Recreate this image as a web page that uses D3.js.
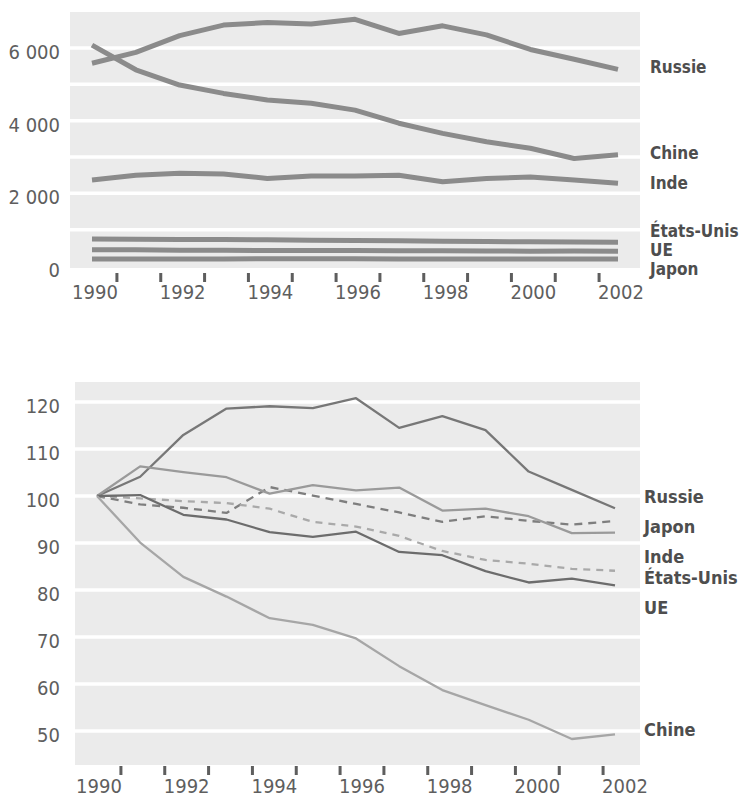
<!DOCTYPE html>
<html>
<head>
<meta charset="utf-8">
<script src="https://cdn.jsdelivr.net/npm/d3@7"></script>
<style>
  html, body { margin: 0; padding: 0; background: #ffffff; }
  svg { display: block; }
  text { font-family: "DejaVu Sans Condensed", "Liberation Sans Narrow", "Arial Narrow", sans-serif; }
</style>
</head>
<body>
<svg id="chart" width="746" height="798"></svg>
<script>
// ---------- DATA ----------
const years = [1990, 1991, 1992, 1993, 1994, 1995, 1996, 1997, 1998, 1999, 2000, 2001, 2002];
const yearTickLabels = [1990, 1992, 1994, 1996, 1998, 2000, 2002];
const yearTickMarks = [1990.5, 1991.5, 1992.5, 1993.5, 1994.5, 1995.5, 1996.5, 1997.5, 1998.5, 1999.5, 2000.5, 2001.5];

// Top panel (absolute values)
const topTicks = [0, 2000, 4000, 6000];
const topGrid = [1000, 2000, 3000, 4000, 5000, 6000];
const russieTop = [5580, 5880, 6340, 6630, 6700, 6660, 6790, 6400, 6610, 6360, 5960, 5690, 5410];
const chineTop  = [6080, 5400, 4980, 4750, 4570, 4480, 4290, 3930, 3650, 3420, 3240, 2960, 3060];
const indeTop   = [2370, 2500, 2550, 2530, 2410, 2480, 2480, 2500, 2320, 2410, 2450, 2370, 2280];
const usaTop    = [740, 735, 730, 728, 722, 712, 705, 695, 680, 672, 668, 660, 655];
const ueTop     = [445, 445, 435, 432, 428, 425, 428, 420, 418, 412, 408, 410, 405];
const japonTop  = [190, 190, 192, 194, 200, 200, 198, 196, 195, 196, 195, 196, 195];

// Bottom panel (index 1990 = 100)
const bottomTicks = [50, 60, 70, 80, 90, 100, 110, 120];
const russieIdx = [100, 104.1, 113, 118.6, 119.1, 118.7, 120.8, 114.5, 117, 114, 105.2, 101.3, 97.4];
const indeIdx   = [100, 106.3, 105.1, 104, 100.5, 102.3, 101.2, 101.8, 96.9, 97.3, 95.7, 92.1, 92.2];
const japonIdx  = [100, 98.2, 97.5, 96.4, 101.9, 100.1, 98.3, 96.5, 94.5, 95.7, 94.7, 93.9, 94.7];
const usaIdx    = [100, 99.5, 98.9, 98.5, 97.3, 94.5, 93.5, 91.5, 88.3, 86.4, 85.6, 84.5, 84.1];
const ueIdx     = [100, 100.2, 96, 95, 92.3, 91.3, 92.4, 88.1, 87.4, 84, 81.6, 82.4, 81];
const chineIdx  = [100, 90.1, 82.8, 78.6, 74, 72.6, 69.7, 63.8, 58.7, 55.5, 52.4, 48.3, 49.3];

// ---------- SERIES / STYLES ----------
const topSeries = [
  { name: "Russie",     values: russieTop, labelAt: 5477 },
  { name: "Chine",      values: chineTop,  labelAt: 3110 },
  { name: "Inde",       values: indeTop,   labelAt: 2285 },
  { name: "États-Unis", values: usaTop,    labelAt: 960 },
  { name: "UE",         values: ueTop,     labelAt: 440 },
  { name: "Japon",      values: japonTop,  labelAt: -85 }
];
const bottomSeries = [
  { name: "Russie",     values: russieIdx, labelAt: 99.8, color: "#777777", dash: null },
  { name: "Japon",      values: japonIdx,  labelAt: 93.4, color: "#7e7e7e", dash: "8,6" },
  { name: "Inde",       values: indeIdx,   labelAt: 87.0, color: "#9a9a9a", dash: null },
  { name: "États-Unis", values: usaIdx,    labelAt: 82.6, color: "#a9a9a9", dash: "7,6" },
  { name: "UE",         values: ueIdx,     labelAt: 76.2, color: "#6c6c6c", dash: null },
  { name: "Chine",      values: chineIdx,  labelAt: 50.2, color: "#a6a6a6", dash: null }
];

const svg = d3.select("#chart");
const plotBg = "#ebebeb";
const tickColor = "#5e5e5e";
const labelColor = "#4e4e4e";

function drawPanel(cfg) {
  const g = svg.append("g");
  g.append("rect")
    .attr("x", cfg.box[0]).attr("y", cfg.box[1])
    .attr("width", cfg.box[2] - cfg.box[0]).attr("height", cfg.box[3] - cfg.box[1])
    .attr("fill", plotBg);
  g.selectAll("line.grid").data(cfg.grid).join("line")
    .attr("class", "grid")
    .attr("x1", cfg.box[0]).attr("x2", cfg.box[2])
    .attr("y1", d => cfg.y(d)).attr("y2", d => cfg.y(d))
    .attr("stroke", "#ffffff").attr("stroke-width", 3.5);
  g.selectAll("text.ytick").data(cfg.yticks).join("text")
    .attr("class", "ytick")
    .attr("x", cfg.yLabelX).attr("y", d => cfg.y(d) + 4)
    .attr("dy", "0.35em")
    .attr("text-anchor", "end")
    .attr("font-size", 20)
    .attr("fill", tickColor)
    .text(d => cfg.yFormat(d));
  g.selectAll("rect.xtick").data(yearTickMarks).join("rect")
    .attr("class", "xtick")
    .attr("x", d => cfg.xAxis(d) - 1.5).attr("y", cfg.tickY)
    .attr("width", 3).attr("height", 9)
    .attr("fill", tickColor);
  g.selectAll("text.xlab").data(yearTickLabels).join("text")
    .attr("class", "xlab")
    .attr("x", d => cfg.xAxis(d)).attr("y", cfg.xLabelY)
    .attr("dy", "0.35em")
    .attr("text-anchor", "middle")
    .attr("font-size", 20)
    .attr("fill", tickColor)
    .text(d => d);
  const line = d3.line().x((d, i) => cfg.x(years[i])).y(d => cfg.y(d)).curve(d3.curveLinear);
  g.selectAll("path.series").data(cfg.series).join("path")
    .attr("class", "series")
    .attr("d", d => line(d.values))
    .attr("fill", "none")
    .attr("stroke", d => d.color || cfg.lineColor)
    .attr("stroke-width", cfg.lineWidth)
    .attr("stroke-dasharray", d => d.dash || null)
    .attr("stroke-linejoin", "round");
  g.selectAll("text.slab").data(cfg.series).join("text")
    .attr("class", "slab")
    .attr("x", cfg.seriesLabelX).attr("y", d => cfg.y(d.labelAt))
    .attr("dy", "0.35em")
    .attr("font-size", cfg.labelSize)
    .attr("font-weight", "bold")
    .attr("fill", labelColor)
    .text(d => d.name);
}

// Top panel
drawPanel({
  box: [70, 12, 640, 268],
  x: d3.scaleLinear().domain([1990, 2002]).range([92, 618]),
  xAxis: d3.scaleLinear().domain([1990, 2002]).range([95, 621]),
  y: d3.scaleLinear().domain([0, 6000]).range([266, 48]),
  grid: topGrid,
  yticks: topTicks,
  yFormat: d => d === 0 ? "0" : d3.format(",")(d).replace(",", " "),
  yLabelX: 60,
  tickY: 273,
  xLabelY: 292,
  series: topSeries,
  lineColor: "#8b8b8b",
  lineWidth: 5,
  seriesLabelX: 650,
  labelSize: 17
});

// Bottom panel
drawPanel({
  box: [75, 382, 640, 765],
  x: d3.scaleLinear().domain([1990, 2002]).range([97, 615]),
  xAxis: d3.scaleLinear().domain([1990, 2002]).range([99, 625]),
  y: d3.scaleLinear().domain([50, 120]).range([731, 402]),
  grid: bottomTicks,
  yticks: bottomTicks,
  yFormat: d => String(d),
  yLabelX: 60,
  tickY: 766,
  xLabelY: 786,
  series: bottomSeries,
  lineWidth: 2.3,
  seriesLabelX: 644,
  labelSize: 18
});
</script>
</body>
</html>
